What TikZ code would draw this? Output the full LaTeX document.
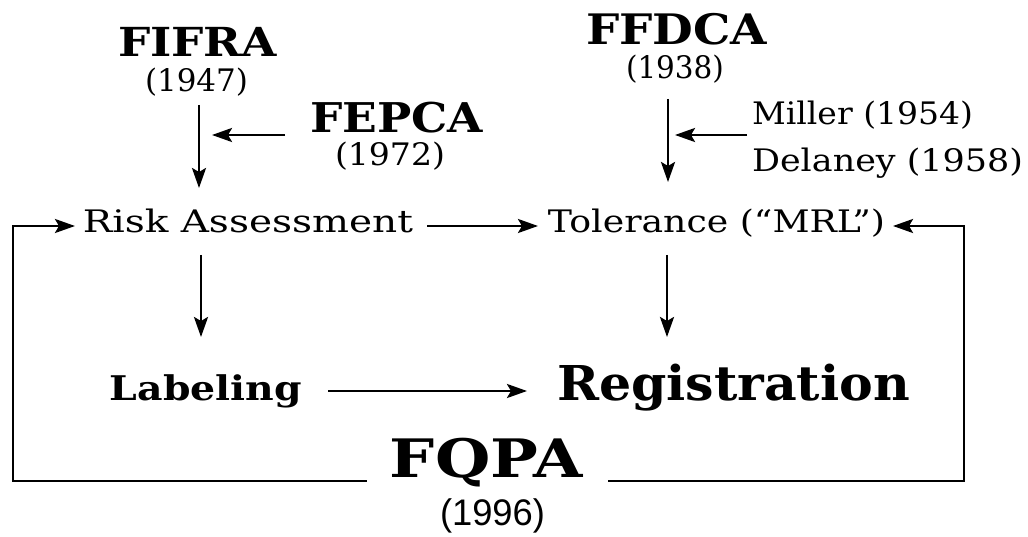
\documentclass[tikz,border=0pt]{standalone}
\usepackage{graphicx}
\usepackage{fontspec}
\setmainfont{DejaVu Serif}
\newfontfamily\yearsans{Liberation Sans}
\usetikzlibrary{arrows.meta}
\newcommand\fitto[2]{\resizebox{#1}{\height}{#2}}
\begin{document}
\begin{tikzpicture}[x=1pt,y=-1pt,
  txt/.style={inner sep=0pt, outer sep=0pt},
  act/.style={txt, font=\bfseries\fontsize{#1}{#1}\selectfont},
  plain/.style={txt, font=\fontsize{#1}{#1}\selectfont},
  arr/.style={line width=2.5pt, -{Stealth[length=20pt,width=14pt,inset=4pt]}}
]
\useasboundingbox (0,0) rectangle (1028,537);
% column coordinates for vertical connectors
\coordinate (xL) at (199,0);
\coordinate (xLb) at (201,0);
\coordinate (xR) at (668,0);
\coordinate (xRb) at (667,0);
\coordinate (fepcaTip) at (212,135);
\coordinate (millerTip) at (675,135);

% laws
\node[act=40, anchor=base] (fifra) at (197.5,57) {\fitto{159pt}{FIFRA}};
\node[plain=31] (y1947) at (196.5,82.5) {\fitto{103pt}{(1947)}};
\node[act=41, anchor=base] (fepca) at (396.5,133) {\fitto{173pt}{FEPCA}};
\node[plain=31] (y1972) at (390,156) {\fitto{110pt}{(1972)}};
\node[act=42, anchor=base] (ffdca) at (676.5,45) {\fitto{181pt}{FFDCA}};
\node[plain=31] (y1938) at (675,69) {\fitto{98pt}{(1938)}};
\node[plain=31, anchor=base west] (miller) at (752,125) {\fitto{221pt}{Miller (1954)}};
\node[plain=31, anchor=base west] (delaney) at (752,172) {\fitto{271pt}{Delaney (1958)}};

% process
\node[plain=31, anchor=base] (ra) at (248,233) {\fitto{330pt}{Risk Assessment}};
\node[plain=31, anchor=base] (tol) at (716.5,233) {\fitto{337pt}{Tolerance (“MRL”)}};
\node[act=34, anchor=base] (lab) at (206,400) {\fitto{192pt}{Labeling}};
\node[act=48, anchor=base] (reg) at (733.5,400) {\fitto{353pt}{Registration}};
\node[act=53, anchor=base] (fqpa) at (486.5,477) {\fitto{193pt}{FQPA}};
\node[txt, font=\yearsans\fontsize{37}{37}\selectfont] (y1996) at (492.5,515.5) {\fitto{105pt}{(1996)}};

% connectors
\draw[arr] ([yshift=-22.5pt]y1947.center -| xL) -- ([yshift=45pt]ra.base -| xL);
\draw[arr] ([xshift=-25pt,yshift=-2pt]fepca.base west) -- (fepcaTip);
\draw[arr] ([yshift=-30pt]y1938.center -| xR) -- ([yshift=51pt]tol.base -| xR);
\draw[arr] ([xshift=-5pt,yshift=-10pt]miller.base west) -- (millerTip);
\draw[arr] ([xshift=14pt,yshift=7pt]ra.base east) -- ([xshift=-10pt,yshift=7pt]tol.base west);
\draw[arr] ([yshift=-22pt]ra.base -| xLb) -- ([yshift=63pt]lab.base -| xLb);
\draw[arr] ([yshift=-22pt]tol.base -| xRb) -- ([yshift=63pt]reg.base -| xRb);
\draw[arr] ([xshift=26pt,yshift=9pt]lab.base east) -- ([xshift=-30pt,yshift=9pt]reg.base west);
\draw[arr] ([xshift=25pt,yshift=-4pt]fqpa.base east) -- ++(356,0) |- ([xshift=8pt,yshift=7pt]tol.base east);
\draw[arr] ([xshift=-23pt,yshift=-4pt]fqpa.base west) -- ++(-354,0) |- ([xshift=-8pt,yshift=7pt]ra.base west);
\end{tikzpicture}
\end{document}
